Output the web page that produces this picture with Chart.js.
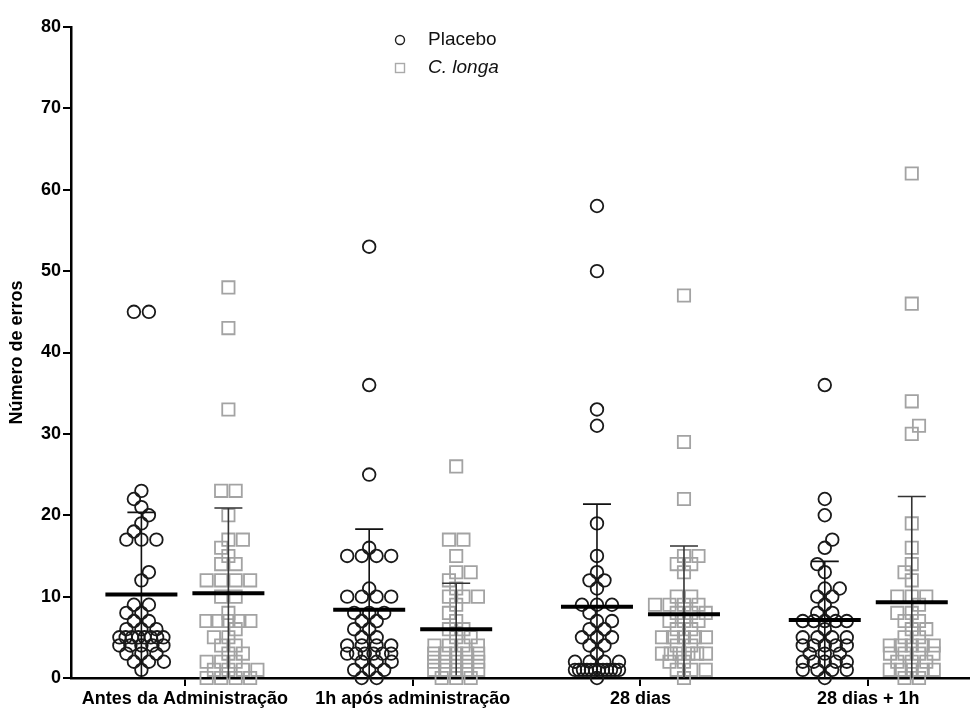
<!DOCTYPE html>
<html>
<head>
<meta charset="utf-8">
<script src="https://cdn.jsdelivr.net/npm/chart.js@4.4.1/dist/chart.umd.min.js"></script>
<style>
  html, body { margin: 0; padding: 0; background: #fff; }
  #wrap { width: 979px; height: 708px; }
</style>
</head>
<body>
<div id="wrap"><canvas id="chart" width="979" height="708"></canvas></div>
<script>
// categories and tick labels
const categories = ['Antes da Administração', '1h após administração', '28 dias', '28 dias + 1h'];
const yTicks = [0, 10, 20, 30, 40, 50, 60, 70, 80];

// individual values, Placebo
const placeboAntes = [45, 45, 23, 22, 21, 20, 19, 18, 17, 17, 17, 13, 12, 9, 9, 8, 8, 7, 7, 6, 6, 6, 5, 5, 5, 5, 5, 5, 5, 5, 4, 4, 4, 4, 4, 3, 3, 3, 2, 2, 2, 1];
const placebo1h = [53, 36, 25, 16, 15, 15, 15, 15, 11, 10, 10, 10, 10, 8, 8, 8, 7, 7, 6, 6, 5, 5, 4, 4, 4, 4, 3, 3, 3, 3, 3, 3, 2, 2, 2, 1, 1, 1, 0, 0];
const placebo28 = [58, 50, 33, 31, 19, 15, 13, 12, 12, 11, 9, 9, 9, 8, 7, 7, 6, 6, 5, 5, 5, 4, 4, 3, 2, 2, 2, 2, 1, 1, 1, 1, 1, 1, 1, 1, 1, 1, 1, 1, 0];
const placebo28h = [36, 22, 20, 17, 16, 14, 13, 11, 11, 10, 10, 9, 8, 8, 7, 7, 7, 7, 7, 6, 5, 5, 5, 5, 4, 4, 4, 4, 4, 3, 3, 3, 2, 2, 2, 2, 2, 1, 1, 1, 1, 0];

// individual values, C. longa
const longaAntes = [48, 43, 33, 23, 23, 20, 17, 17, 16, 15, 14, 14, 12, 12, 12, 12, 10, 10, 8, 7, 7, 7, 7, 7, 6, 5, 5, 4, 4, 3, 3, 2, 2, 2, 1, 1, 1, 1, 0, 0, 0, 0];
const longa1h = [26, 17, 17, 15, 13, 13, 12, 11, 10, 10, 10, 9, 8, 7, 6, 6, 5, 5, 4, 4, 4, 4, 3, 3, 3, 3, 3, 2, 2, 2, 2, 2, 1, 1, 1, 1, 1, 0, 0, 0];
const longa28 = [47, 29, 22, 15, 15, 14, 14, 13, 10, 10, 9, 9, 9, 9, 8, 8, 8, 7, 7, 7, 6, 6, 5, 5, 5, 5, 5, 4, 4, 3, 3, 3, 3, 3, 3, 2, 2, 1, 1, 1, 0];
const longa28h = [62, 46, 34, 31, 30, 19, 16, 14, 13, 12, 10, 10, 10, 9, 8, 8, 7, 7, 6, 6, 5, 5, 4, 4, 4, 4, 4, 3, 3, 3, 3, 2, 2, 2, 1, 1, 1, 1, 1, 0, 0];

// mean and SD per group
const placeboMean = [10.25, 8.4, 8.77, 7.13];
const placeboSD = [10.1, 9.9, 12.6, 7.2];
const longaMean = [10.4, 6.0, 7.83, 9.31];
const longaSD = [10.5, 5.65, 8.4, 13.0];

const placeboGroups = [placeboAntes, placebo1h, placebo28, placebo28h];
const longaGroups = [longaAntes, longa1h, longa28, longa28h];

const FONT = "'Liberation Sans', Arial, sans-serif";
const X_MAX = 3.94;        // axis runs off the right edge in the original
const SIDE_PX = 43.5;      // distance of each series from the category tick
const MEAN_W = 72;
const CAP_W = 28;

// simple row based scatter layout, roughly what Prism does
function swarmOffsets(values, gap, span) {
  const counts = new Map();
  values.forEach(v => counts.set(v, (counts.get(v) || 0) + 1));
  const rows = [...counts.keys()].sort((a, b) => a - b);
  const step = new Map(), shift = new Map(), phase = new Map();
  let flip = 1;
  rows.forEach(v => {
    const n = counts.get(v);
    const s = n > 1 ? Math.min(gap, span / (n - 1)) : gap;
    step.set(v, s);
    const natural = ((n - 1) / 2) % 1;
    let sh = 0;
    if (s === gap && phase.has(v - 1) && step.get(v - 1) === gap) {
      const want = phase.get(v - 1) === 0 ? 0.5 : 0;
      if (want !== natural) { sh = 0.5 * gap * flip; flip = -flip; }
    }
    shift.set(v, sh);
    phase.set(v, (((natural + sh / gap) % 1) + 1) % 1);
  });
  const seen = new Map();
  return values.map(v => {
    const n = counts.get(v), i = seen.get(v) || 0;
    seen.set(v, i + 1);
    return (i - (n - 1) / 2) * step.get(v) + shift.get(v);
  });
}

function buildPoints(groups, side, pxPerUnit, gap) {
  const out = [];
  groups.forEach((vals, gi) => {
    const offs = swarmOffsets(vals, gap, 44);
    vals.forEach((v, k) => {
      out.push({ x: gi + 0.5 + (side * SIDE_PX + offs[k]) / pxPerUnit, y: v });
    });
  });
  return out;
}

const meanSdPlugin = {
  id: 'meanSd',
  afterDatasetsDraw(chart) {
    const { ctx, scales: { x, y } } = chart;
    const draw = (means, sds, side, color) => {
      means.forEach((m, i) => {
        const cx = x.getPixelForValue(i + 0.5) + side * SIDE_PX;
        const top = y.getPixelForValue(m + sds[i]);
        const bot = y.getPixelForValue(Math.max(0, m - sds[i]));
        const ym = y.getPixelForValue(m);
        ctx.save();
        ctx.strokeStyle = color;
        ctx.lineWidth = 1.6;
        ctx.beginPath();
        ctx.moveTo(cx, bot);
        ctx.lineTo(cx, top);
        ctx.moveTo(cx - CAP_W / 2, top);
        ctx.lineTo(cx + CAP_W / 2, top);
        ctx.stroke();
        ctx.strokeStyle = '#000';
        ctx.lineWidth = 4;
        ctx.beginPath();
        ctx.moveTo(cx - MEAN_W / 2, ym);
        ctx.lineTo(cx + MEAN_W / 2, ym);
        ctx.stroke();
        ctx.restore();
      });
    };
    draw(placeboMean, placeboSD, -1, '#111');
    draw(longaMean, longaSD, 1, '#333');
  }
};

const legendPlugin = {
  id: 'dotLegend',
  afterDraw(chart) {
    const ctx = chart.ctx;
    ctx.save();
    ctx.lineWidth = 1.4;
    ctx.strokeStyle = '#222';
    ctx.beginPath();
    ctx.arc(400, 40, 4.5, 0, Math.PI * 2);
    ctx.stroke();
    ctx.strokeStyle = '#aaa';
    ctx.strokeRect(395.5, 63.5, 9, 9);
    ctx.fillStyle = '#111';
    ctx.textBaseline = 'middle';
    ctx.font = '19px ' + FONT;
    ctx.fillText('Placebo', 428, 40);
    ctx.font = 'italic 19px ' + FONT;
    ctx.fillText('C. longa', 428, 68);
    ctx.restore();
  }
};

const chart = new Chart(document.getElementById('chart'), {
  type: 'scatter',
  data: {
    datasets: [
      {
        label: 'Placebo',
        data: buildPoints(placeboGroups, -1, 230, 15),
        pointStyle: 'circle',
        pointRadius: 6.3,
        pointBorderWidth: 1.8,
        borderColor: '#1a1a1a',
        backgroundColor: 'rgba(0,0,0,0)',
        clip: false,
      },
      {
        label: 'C. longa',
        data: buildPoints(longaGroups, 1, 230, 14.5),
        pointStyle: 'rect',
        pointRadius: 8.7,
        pointBorderWidth: 1.8,
        borderColor: '#a3a3a3',
        backgroundColor: 'rgba(0,0,0,0)',
        clip: false,
      },
    ],
  },
  options: {
    responsive: false,
    animation: false,
    devicePixelRatio: 1,
    layout: { padding: { top: 27, right: 0, bottom: 0, left: 0 } },
    plugins: {
      legend: { display: false },
      tooltip: { enabled: false },
    },
    scales: {
      x: {
        type: 'linear',
        min: 0,
        max: X_MAX,
        afterBuildTicks: s => { s.ticks = categories.map((c, i) => ({ value: i + 0.5 })); },
        afterFit: s => { s.height = 30; },
        border: { display: true, color: '#000', width: 2.5 },
        grid: { drawOnChartArea: false, drawTicks: true, tickLength: 8, color: '#000', lineWidth: 2 },
        ticks: {
          color: '#000',
          font: { family: FONT, size: 18, weight: 'bold' },
          padding: 2,
          maxRotation: 0,
          autoSkip: false,
          callback: (v, i) => categories[i],
        },
      },
      y: {
        type: 'linear',
        min: 0,
        max: 80,
        afterBuildTicks: s => { s.ticks = yTicks.map(v => ({ value: v })); },
        afterFit: s => { s.width = 71; },
        border: { display: true, color: '#000', width: 2.5 },
        grid: { drawOnChartArea: false, drawTicks: true, tickLength: 8, color: '#000', lineWidth: 2 },
        ticks: {
          color: '#000',
          font: { family: FONT, size: 18, weight: 'bold' },
          padding: 2,
        },
        title: {
          display: true,
          text: 'Número de erros',
          color: '#000',
          font: { family: FONT, size: 18, weight: 'bold' },
          padding: { top: 6, bottom: 0 },
        },
      },
    },
  },
  plugins: [meanSdPlugin, legendPlugin],
});

// redo the x offsets with the real pixel scale
const xs = chart.scales.x;
const pxPerUnit = xs.getPixelForValue(1) - xs.getPixelForValue(0);
chart.data.datasets[0].data = buildPoints(placeboGroups, -1, pxPerUnit, 15);
chart.data.datasets[1].data = buildPoints(longaGroups, 1, pxPerUnit, 14.5);
chart.update('none');
</script>
</body>
</html>
